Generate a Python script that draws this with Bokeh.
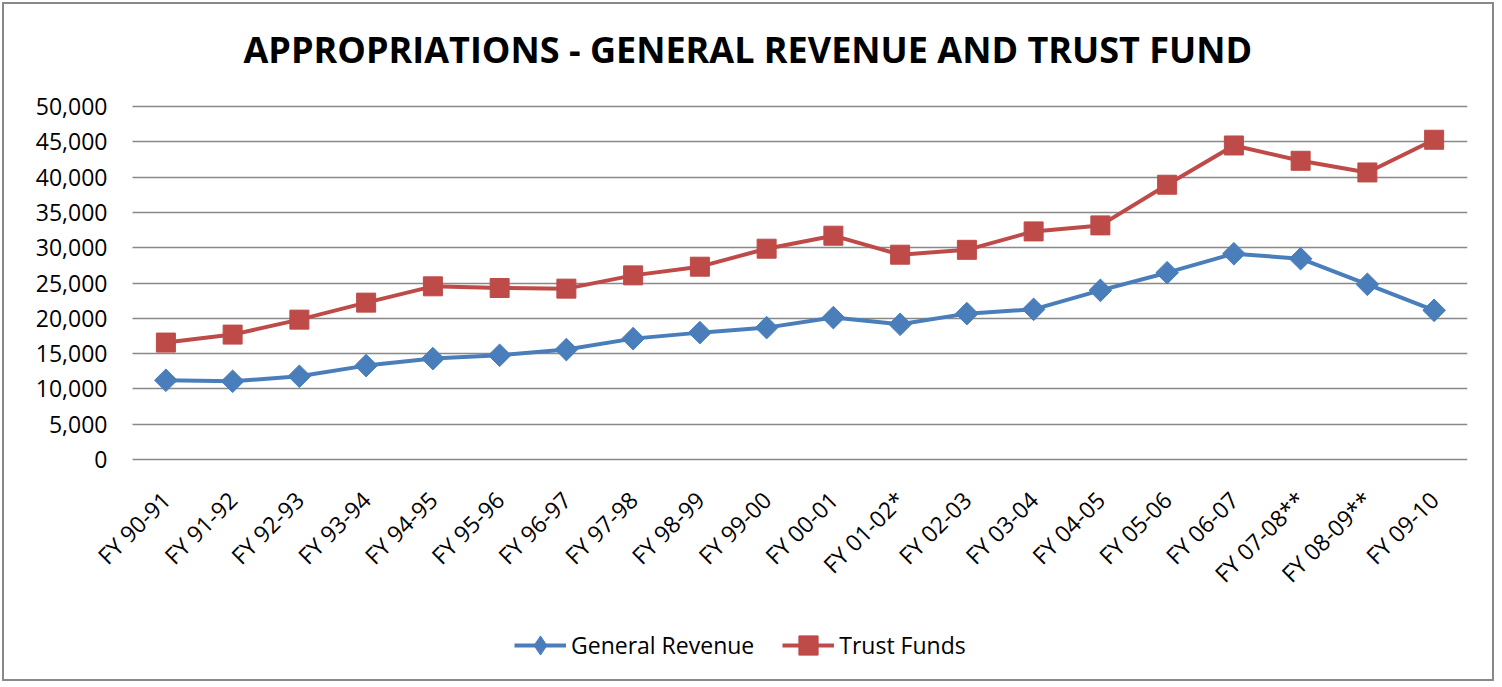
from math import pi
from bokeh.plotting import figure
from bokeh.models import (ColumnDataSource, Range1d, Legend, LegendItem,
                          NumeralTickFormatter, FixedTicker)
from bokeh.embed import file_html
from bokeh.resources import INLINE

categories = ["FY 90-91", "FY 91-92", "FY 92-93", "FY 93-94", "FY 94-95", "FY 95-96",
              "FY 96-97", "FY 97-98", "FY 98-99", "FY 99-00", "FY 00-01", "FY 01-02*",
              "FY 02-03", "FY 03-04", "FY 04-05", "FY 05-06", "FY 06-07", "FY 07-08**",
              "FY 08-09**", "FY 09-10"]
general_revenue = [11220, 11080, 11790, 13300, 14290, 14760, 15570, 17120, 17970, 18680,
                   20100, 19150, 20660, 21270, 23960, 26460, 29150, 28440, 24810, 21130]
trust_funds = [16560, 17690, 19810, 22220, 24530, 24290, 24200, 26080, 27310, 29860,
               31700, 29010, 29700, 32310, 33160, 38920, 44480, 42310, 40660, 45290]
y_ticks = [0, 5000, 10000, 15000, 20000, 25000, 30000, 35000, 40000, 45000, 50000]

idx = list(range(len(categories)))
src = ColumnDataSource(dict(i=idx, cat=categories, gr=general_revenue, tf=trust_funds))

FONT = "Open Sans"
BLUE = "#4A7EBB"
RED = "#BE4B48"
GRID = "#898989"

# page geometry (the canvas sits inside a 2px margin + 2px border)
OFF = 4
W, H = 1492, 679
PLOT_L, PLOT_R = 132, 1467          # category band, page px
Y0, Y50 = 459, 106                  # page px of 0 and 50,000
FRAME_L, FRAME_T, FRAME_B = 25, 90, 680
n = len(categories)
ppu_x = (PLOT_R - PLOT_L) / n
ppu_y = (Y0 - Y50) / 50000.0
x_start = -0.5 - (PLOT_L - FRAME_L) / ppu_x
x_end = n - 0.5
y_end = (Y0 - FRAME_T) / ppu_y
y_start = -(FRAME_B - Y0) / ppu_y

p = figure(width=W, height=H, x_range=Range1d(x_start, x_end), y_range=Range1d(y_start, y_end),
           output_backend="svg", toolbar_location=None,
           min_border_left=FRAME_L - OFF, min_border_right=W - (PLOT_R - OFF),
           min_border_top=FRAME_T - OFF, min_border_bottom=H - (FRAME_B - OFF))
p.styles = {"border": "2px solid " + GRID, "margin": "2px"}

p.title.text = "APPROPRIATIONS - GENERAL REVENUE AND TRUST FUND"
p.title.align = "left"
p.title.offset = 243 - FRAME_L
p.title.text_font = FONT
p.title.text_font_style = "bold"
p.title.text_font_size = "36px"
p.title.text_color = "#000000"
p.title.standoff = 33

p.outline_line_color = None
p.background_fill_color = "white"
p.border_fill_color = "white"

p.xgrid.grid_line_color = None
p.ygrid.grid_line_color = GRID
p.ygrid.grid_line_width = 1.5
try:
    p.ygrid.cross_bounds = (-0.5, n - 0.5)
except Exception:
    pass

p.yaxis.ticker = FixedTicker(ticks=y_ticks)
p.yaxis.formatter = NumeralTickFormatter(format="0,0")
p.yaxis.fixed_location = -0.5
p.yaxis.major_label_standoff = 25

p.xaxis.ticker = FixedTicker(ticks=idx)
p.xaxis.major_label_overrides = {i: c for i, c in zip(idx, categories)}
p.xaxis.fixed_location = 0
p.xaxis.major_label_orientation = pi / 4
p.xaxis.major_label_standoff = 36

for ax in (p.xaxis, p.yaxis):
    ax.axis_line_color = None
    ax.major_tick_line_color = None
    ax.minor_tick_line_color = None
    ax.major_tick_out = 0
    ax.major_tick_in = 0
    ax.major_label_text_font = FONT
    ax.major_label_text_font_size = "23px"
    ax.major_label_text_color = "#000000"

# a diamond that sits hidden under each rotated-square marker, used for the legend key
gr_key = p.scatter("i", "gr", source=src, marker="diamond", size=20, fill_color=BLUE,
                   line_color=BLUE)
gr_line = p.line("i", "gr", source=src, line_color=BLUE, line_width=4)
gr_pts = p.scatter("i", "gr", source=src, marker="square", angle=pi / 4, size=16,
                   fill_color=BLUE, line_color=BLUE)
tf_line = p.line("i", "tf", source=src, line_color=RED, line_width=4)
tf_pts = p.scatter("i", "tf", source=src, marker="square", size=19, fill_color=RED,
                   line_color=RED)

legend = Legend(items=[LegendItem(label="General Revenue", renderers=[gr_line, gr_key]),
                       LegendItem(label="Trust Funds", renderers=[tf_line, tf_pts])],
                orientation="horizontal", location=(516 - 2 - FRAME_L, 11),
                label_text_font=FONT, label_text_font_size="23px", label_text_color="#000000",
                glyph_width=52, glyph_height=48, spacing=28, label_standoff=5,
                border_line_color=None, background_fill_alpha=0, padding=2, margin=0)
p.add_layout(legend, "center")

open("out.html", "w").write(file_html(p, INLINE))
